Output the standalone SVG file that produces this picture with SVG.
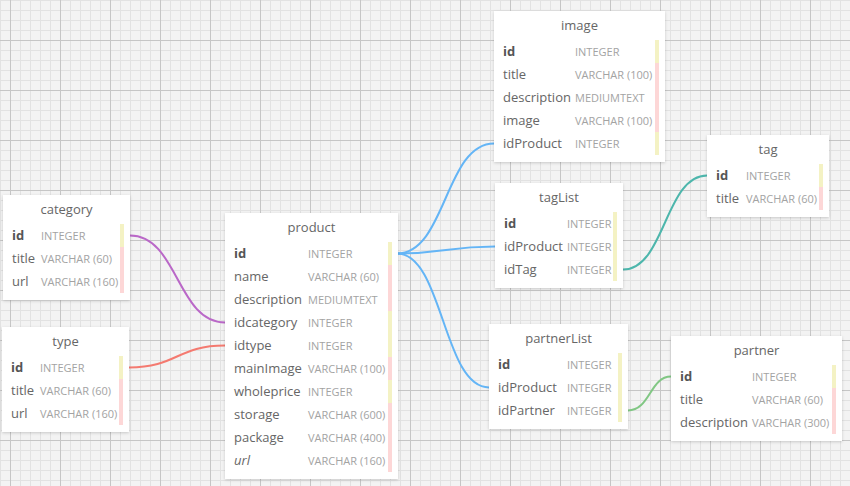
<svg xmlns="http://www.w3.org/2000/svg" width="850" height="486" viewBox="0 0 850 486">
<defs>
<pattern id="minor" width="10" height="10" patternUnits="userSpaceOnUse" x="0" y="0">
<path d="M0.5,0 V10 M0,0.5 H10" stroke="#e2e2e2" stroke-width="1" fill="none"/>
</pattern>
<pattern id="major" width="50" height="50" patternUnits="userSpaceOnUse" x="10" y="40">
<path d="M0.5,0 V50 M0,0.5 H50" stroke="#c6c6c6" stroke-width="1" fill="none"/>
</pattern>
<filter id="sh" x="-10%" y="-10%" width="120%" height="120%">
<feDropShadow dx="0" dy="1" stdDeviation="1.5" flood-color="#000" flood-opacity="0.18"/>
</filter>
<style>
.box{fill:#fff;filter:url(#sh)}
.title{font-family:"Open Sans","Liberation Sans",sans-serif;font-size:13px;fill:#666;text-anchor:middle}
.n{font-family:"Open Sans","Liberation Sans",sans-serif;font-size:13px;fill:#666}
.pk{font-weight:bold;fill:#555}
.it{font-style:italic}
.t{font-family:"Open Sans","Liberation Sans",sans-serif;font-size:11px;fill:#a3a3a3}
.y{fill:#f4f2c4}
.p{fill:#fdd7d7}
.c{fill:none;stroke-width:2}
</style>
</defs>
<rect width="850" height="486" fill="#f3f3f3"/>
<rect width="850" height="486" fill="url(#minor)"/>
<rect width="850" height="486" fill="url(#major)"/>

<g id="connectors">
<path class="c" stroke="#ba68c8" d="M130,235.5 C178,235.5 177,322.5 225,322.5"/>
<path class="c" stroke="#f47a70" d="M129,367.5 C177,367.5 177,345.5 225,345.5"/>
<path class="c" stroke="#64b5f6" d="M397,253.5 C446,253.5 445,143.5 494,143.5"/>
<path class="c" stroke="#64b5f6" d="M397,253.5 C446,253.5 446,246.5 495,246.5"/>
<path class="c" stroke="#64b5f6" d="M397,253.5 C443,253.5 443,387.5 489,387.5"/>
<path class="c" stroke="#4db6ac" d="M623,269.5 C665,269.5 665,175.5 707,175.5"/>
<path class="c" stroke="#81c784" d="M628,410.5 C650,410.5 650,376.5 671,376.5"/>
</g>

<g id="category" transform="translate(3,195)">
<rect class="box" width="127" height="105"/>
<text class="title" x="63.5" y="19">category</text>
<rect class="y" x="117" y="29" width="4" height="23"/>
<rect class="p" x="117" y="52" width="4" height="46"/>
<text class="n pk" x="9" y="45">id</text><text class="t" x="38" y="45">INTEGER</text>
<text class="n" x="9" y="68">title</text><text class="t" x="38" y="68">VARCHAR (60)</text>
<text class="n" x="9" y="91">url</text><text class="t" x="38" y="91">VARCHAR (160)</text>
</g>

<g id="type" transform="translate(2,327)">
<rect class="box" width="127" height="105"/>
<text class="title" x="63.5" y="19">type</text>
<rect class="y" x="117" y="29" width="4" height="23"/>
<rect class="p" x="117" y="52" width="4" height="46"/>
<text class="n pk" x="9" y="45">id</text><text class="t" x="38" y="45">INTEGER</text>
<text class="n" x="9" y="68">title</text><text class="t" x="38" y="68">VARCHAR (60)</text>
<text class="n" x="9" y="91">url</text><text class="t" x="38" y="91">VARCHAR (160)</text>
</g>

<g id="product" transform="translate(225,213)">
<rect class="box" width="173" height="266"/>
<text class="title" x="86.5" y="19">product</text>
<rect class="y" x="163" y="29" width="4" height="23"/>
<rect class="p" x="163" y="52" width="4" height="46"/>
<rect class="y" x="163" y="98" width="4" height="46"/>
<rect class="p" x="163" y="144" width="4" height="23"/>
<rect class="y" x="163" y="167" width="4" height="23"/>
<rect class="p" x="163" y="190" width="4" height="69"/>
<text class="n pk" x="9" y="45">id</text><text class="t" x="83" y="45">INTEGER</text>
<text class="n" x="9" y="68">name</text><text class="t" x="83" y="68">VARCHAR (60)</text>
<text class="n" x="9" y="91">description</text><text class="t" x="83" y="91">MEDIUMTEXT</text>
<text class="n" x="9" y="114">idcategory</text><text class="t" x="83" y="114">INTEGER</text>
<text class="n" x="9" y="137">idtype</text><text class="t" x="83" y="137">INTEGER</text>
<text class="n" x="9" y="160">mainImage</text><text class="t" x="83" y="160">VARCHAR (100)</text>
<text class="n" x="9" y="183">wholeprice</text><text class="t" x="83" y="183">INTEGER</text>
<text class="n" x="9" y="206">storage</text><text class="t" x="83" y="206">VARCHAR (600)</text>
<text class="n" x="9" y="229">package</text><text class="t" x="83" y="229">VARCHAR (400)</text>
<text class="n it" x="9" y="252">url</text><text class="t" x="83" y="252">VARCHAR (160)</text>
</g>

<g id="image" transform="translate(494,11)">
<rect class="box" width="171" height="151"/>
<text class="title" x="85.5" y="19">image</text>
<rect class="y" x="161" y="29" width="4" height="23"/>
<rect class="p" x="161" y="52" width="4" height="69"/>
<rect class="y" x="161" y="121" width="4" height="23"/>
<text class="n pk" x="9" y="45">id</text><text class="t" x="81" y="45">INTEGER</text>
<text class="n" x="9" y="68">title</text><text class="t" x="81" y="68">VARCHAR (100)</text>
<text class="n" x="9" y="91">description</text><text class="t" x="81" y="91">MEDIUMTEXT</text>
<text class="n" x="9" y="114">image</text><text class="t" x="81" y="114">VARCHAR (100)</text>
<text class="n" x="9" y="137">idProduct</text><text class="t" x="81" y="137">INTEGER</text>
</g>

<g id="tag" transform="translate(707,135)">
<rect class="box" width="122" height="82"/>
<text class="title" x="61" y="19">tag</text>
<rect class="y" x="112" y="29" width="4" height="23"/>
<rect class="p" x="112" y="52" width="4" height="23"/>
<text class="n pk" x="9" y="45">id</text><text class="t" x="39" y="45">INTEGER</text>
<text class="n" x="9" y="68">title</text><text class="t" x="39" y="68">VARCHAR (60)</text>
</g>

<g id="tagList" transform="translate(495,183)">
<rect class="box" width="128" height="105"/>
<text class="title" x="64" y="19">tagList</text>
<rect class="y" x="118" y="29" width="4" height="69"/>
<text class="n pk" x="9" y="45">id</text><text class="t" x="72" y="45">INTEGER</text>
<text class="n" x="9" y="68">idProduct</text><text class="t" x="72" y="68">INTEGER</text>
<text class="n" x="9" y="91">idTag</text><text class="t" x="72" y="91">INTEGER</text>
</g>

<g id="partnerList" transform="translate(489,324)">
<rect class="box" width="139" height="105"/>
<text class="title" x="69.5" y="19">partnerList</text>
<rect class="y" x="129" y="29" width="4" height="69"/>
<text class="n pk" x="9" y="45">id</text><text class="t" x="78" y="45">INTEGER</text>
<text class="n" x="9" y="68">idProduct</text><text class="t" x="78" y="68">INTEGER</text>
<text class="n" x="9" y="91">idPartner</text><text class="t" x="78" y="91">INTEGER</text>
</g>

<g id="partner" transform="translate(671,336)">
<rect class="box" width="171" height="105"/>
<text class="title" x="85.5" y="19">partner</text>
<rect class="y" x="161" y="29" width="4" height="23"/>
<rect class="p" x="161" y="52" width="4" height="46"/>
<text class="n pk" x="9" y="45">id</text><text class="t" x="81" y="45">INTEGER</text>
<text class="n" x="9" y="68">title</text><text class="t" x="81" y="68">VARCHAR (60)</text>
<text class="n" x="9" y="91">description</text><text class="t" x="81" y="91">VARCHAR (300)</text>
</g>
</svg>
